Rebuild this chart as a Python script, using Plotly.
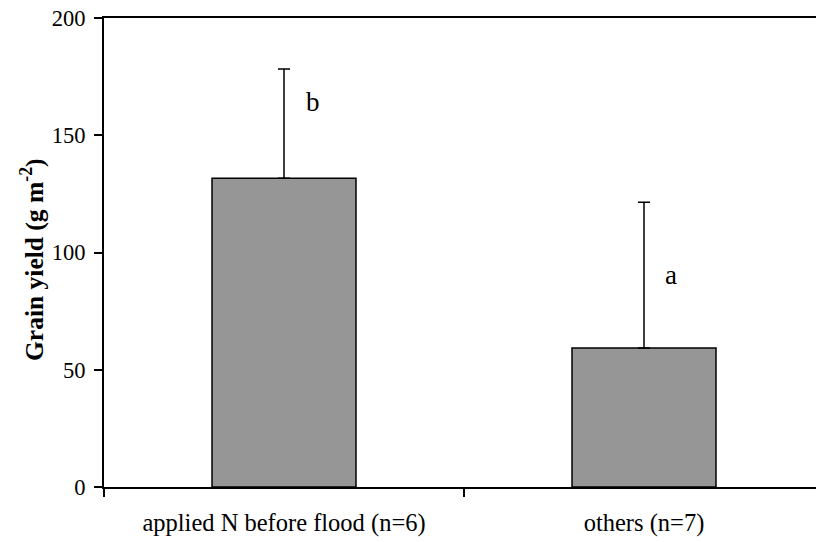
import plotly.graph_objects as go

# Grain yield by N management group
categories = ["applied N before flood (n=6)", "others (n=7)"]
grain_yield = [131.7, 59.3]
yield_err = [46.5, 62.1]
letters = ["b", "a"]
letter_y = [164, 90.6]
letter_dx = [0.055, 0.052]

y_ticks = [0, 50, 100, 150, 200]

FONT = "Liberation Serif, Times New Roman, serif"

fig = go.Figure()
fig.add_trace(go.Bar(
    x=categories,
    y=grain_yield,
    width=0.4,
    marker=dict(color="#969696", line=dict(color="black", width=1.5)),
    error_y=dict(type="data", symmetric=False, array=yield_err,
                 arrayminus=[0] * len(yield_err),
                 color="black", thickness=1.5, width=6),
    showlegend=False,
))

for i, (lab, ly, dx) in enumerate(zip(letters, letter_y, letter_dx)):
    fig.add_annotation(x=i + dx, y=ly, text=lab, showarrow=False,
                       xref="x", yref="y", xanchor="left", yanchor="middle",
                       font=dict(family=FONT, size=27, color="black"))

fig.add_annotation(x=-72 / 712, y=(487 - 260) / 469, xref="paper", yref="paper",
                   text="<b>Grain yield (g m<sup>-2</sup>)</b>", textangle=-90,
                   showarrow=False, xanchor="center", yanchor="middle",
                   font=dict(family=FONT, size=25.5, color="black"))

fig.update_layout(
    width=816, height=542,
    margin=dict(l=104, r=0, t=18, b=55),
    paper_bgcolor="white", plot_bgcolor="white",
    font=dict(family=FONT, size=22, color="black"),
    bargap=0.6,
)
fig.update_xaxes(
    type="category",
    range=[-0.5, -0.5 + 712 / 360],
    showline=True, linecolor="black", linewidth=2, mirror=True,
    ticks="outside", ticklen=8, tickwidth=1.5, tickcolor="black",
    tickson="boundaries", showgrid=False,
    ticklabelstandoff=13,
    tickfont=dict(family=FONT, size=24.5, color="black"),
)
fig.update_yaxes(
    range=[0, 200], tickvals=y_ticks,
    showline=True, linecolor="black", linewidth=2,
    ticks="outside", ticklen=8, tickwidth=1.5, tickcolor="black",
    showgrid=False, zeroline=False,
    ticklabelstandoff=4,
    tickfont=dict(family=FONT, size=22.5, color="black"),
)

fig.write_html("out.html")
